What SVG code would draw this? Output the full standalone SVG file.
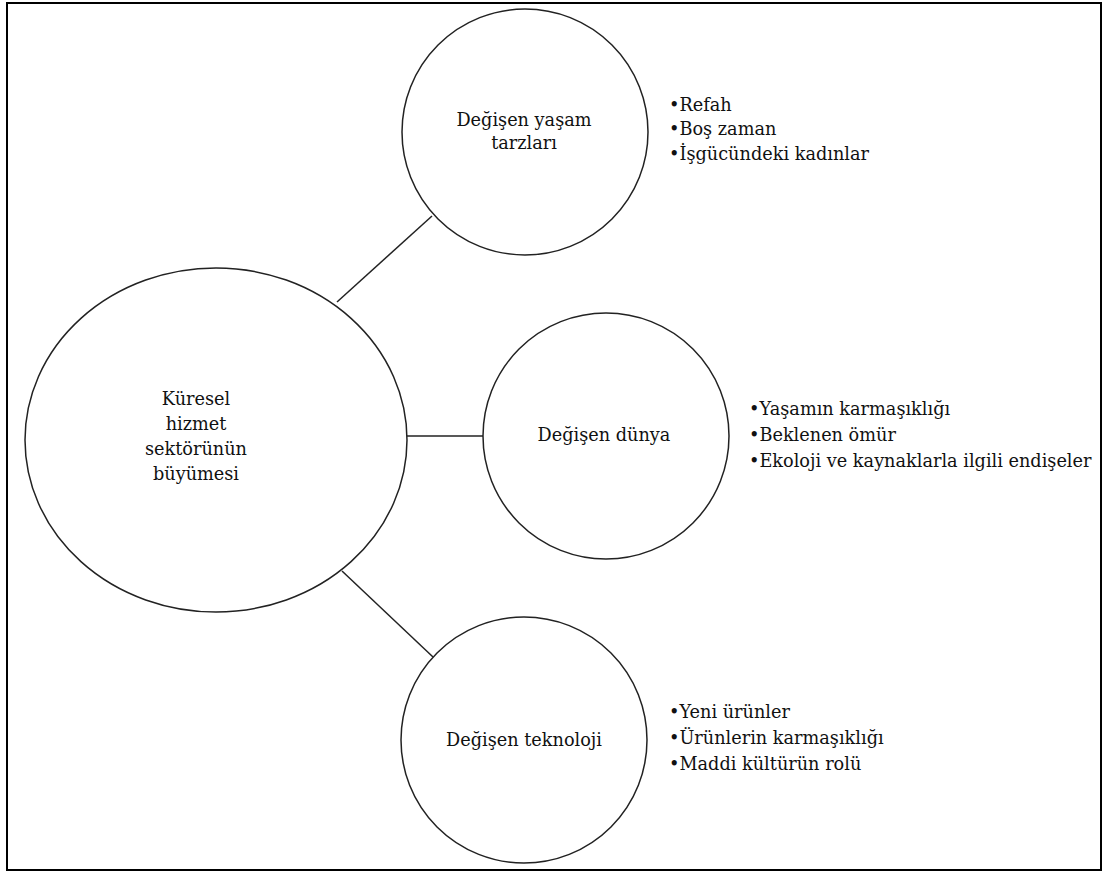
<svg xmlns="http://www.w3.org/2000/svg" width="1105" height="874" viewBox="0 0 1105 874">
<style>
.node{fill:#fff;stroke:#222;stroke-width:1.5}
.conn{stroke:#222;stroke-width:1.5;fill:none}
.t{font-family:"DejaVu Serif","Liberation Serif",serif;font-size:17.7px;fill:#111}
.c{text-anchor:middle}
</style>
<rect x="0" y="0" width="1105" height="874" fill="#fff"/>
<rect x="7" y="3" width="1094" height="867" fill="none" stroke="#000" stroke-width="2"/>
<g id="connectors">
<line class="conn" x1="337" y1="302" x2="432" y2="216"/>
<line class="conn" x1="407" y1="436" x2="483" y2="436"/>
<line class="conn" x1="342" y1="571" x2="433" y2="657"/>
</g>
<g id="center">
<ellipse class="node" cx="216" cy="440" rx="191" ry="172"/>
<text class="t c" x="196" y="405">Küresel</text>
<text class="t c" x="196" y="430">hizmet</text>
<text class="t c" x="196" y="455">sektörünün</text>
<text class="t c" x="196" y="480">büyümesi</text>
</g>
<g id="yasam">
<circle class="node" cx="525" cy="132" r="123"/>
<text class="t c" x="524" y="126">Değişen yaşam</text>
<text class="t c" x="524" y="149">tarzları</text>
</g>
<g id="dunya">
<circle class="node" cx="606" cy="436" r="123"/>
<text class="t c" x="604" y="441">Değişen dünya</text>
</g>
<g id="teknoloji">
<circle class="node" cx="524" cy="740" r="123"/>
<text class="t c" x="524" y="746">Değişen teknoloji</text>
</g>
<g id="yasam-list">
<text class="t" x="669" y="111">•Refah</text>
<text class="t" x="669" y="135">•Boş zaman</text>
<text class="t" x="669" y="160">•İşgücündeki kadınlar</text>
</g>
<g id="dunya-list">
<text class="t" x="749" y="415">•Yaşamın karmaşıklığı</text>
<text class="t" x="749" y="441">•Beklenen ömür</text>
<text class="t" x="749" y="467">•Ekoloji ve kaynaklarla ilgili endişeler</text>
</g>
<g id="teknoloji-list">
<text class="t" x="669" y="718">•Yeni ürünler</text>
<text class="t" x="669" y="744">•Ürünlerin karmaşıklığı</text>
<text class="t" x="669" y="770">•Maddi kültürün rolü</text>
</g>
</svg>
